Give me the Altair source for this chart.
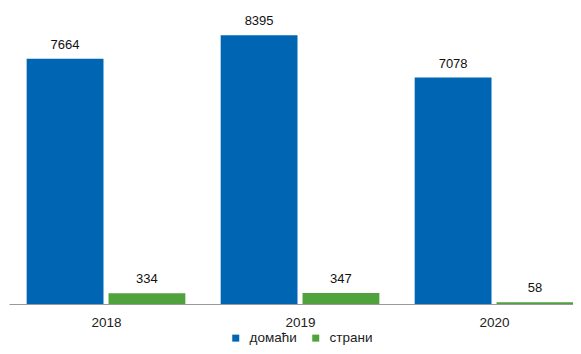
import altair as alt
import pandas as pd

years = [2018, 2019, 2020]
series = ["домаћи", "страни"]
domestic = [7664, 8395, 7078]
foreign = [334, 347, 58]
colors = ["#0066B3", "#50A23C"]

rows = []
for y, d, f in zip(years, domestic, foreign):
    rows.append({"year": y, "series": series[0], "value": d, "side": -1})
    rows.append({"year": y, "series": series[1], "value": f, "side": 1})
df = pd.DataFrame(rows)

FONT = "Liberation Sans"

base = alt.Chart(df).transform_calculate(
    xc="datum.year + datum.side * 0.211",
    x0="datum.xc - 0.198",
    x1="datum.xc + 0.198",
)

xscale = alt.Scale(domain=[2017.5, 2020.407], nice=False, zero=False)
yscale = alt.Scale(domain=[0, 9000], nice=False)

bars = base.mark_bar().encode(
    x=alt.X("x0:Q", scale=xscale,
            axis=alt.Axis(values=years, format="d", title=None, grid=False, ticks=False,
                          labelPadding=11, labelFontSize=13.5, labelColor="#222222",
                          labelFont=FONT, domainColor="#999999", domainWidth=1)),
    x2="x1:Q",
    y=alt.Y("value:Q", scale=yscale, axis=None),
    y2=alt.datum(0),
    color=alt.Color("series:N", scale=alt.Scale(domain=series, range=colors),
                    legend=alt.Legend(title=None, orient="none", legendX=220, legendY=315,
                                      direction="horizontal", symbolType="square",
                                      symbolSize=49, symbolStrokeWidth=0,
                                      labelFontSize=13.5, labelFont=FONT, labelColor="#222222",
                                      columnPadding=12, labelOffset=7, padding=0)),
)

labels = base.mark_text(dy=-7, baseline="bottom", fontSize=13, font=FONT, color="#111111").encode(
    x=alt.X("xc:Q", scale=xscale),
    y=alt.Y("value:Q", scale=yscale),
    text=alt.Text("value:Q", format="d"),
)

chart = alt.layer(bars, labels).properties(
    width=564, height=288,
    autosize=alt.AutoSizeParams(type="none"),
    padding={"left": 1, "top": 8, "right": 0, "bottom": 42},
).configure_view(stroke=None)

chart.save("out.html", embed_options={"renderer": "svg", "actions": False})
